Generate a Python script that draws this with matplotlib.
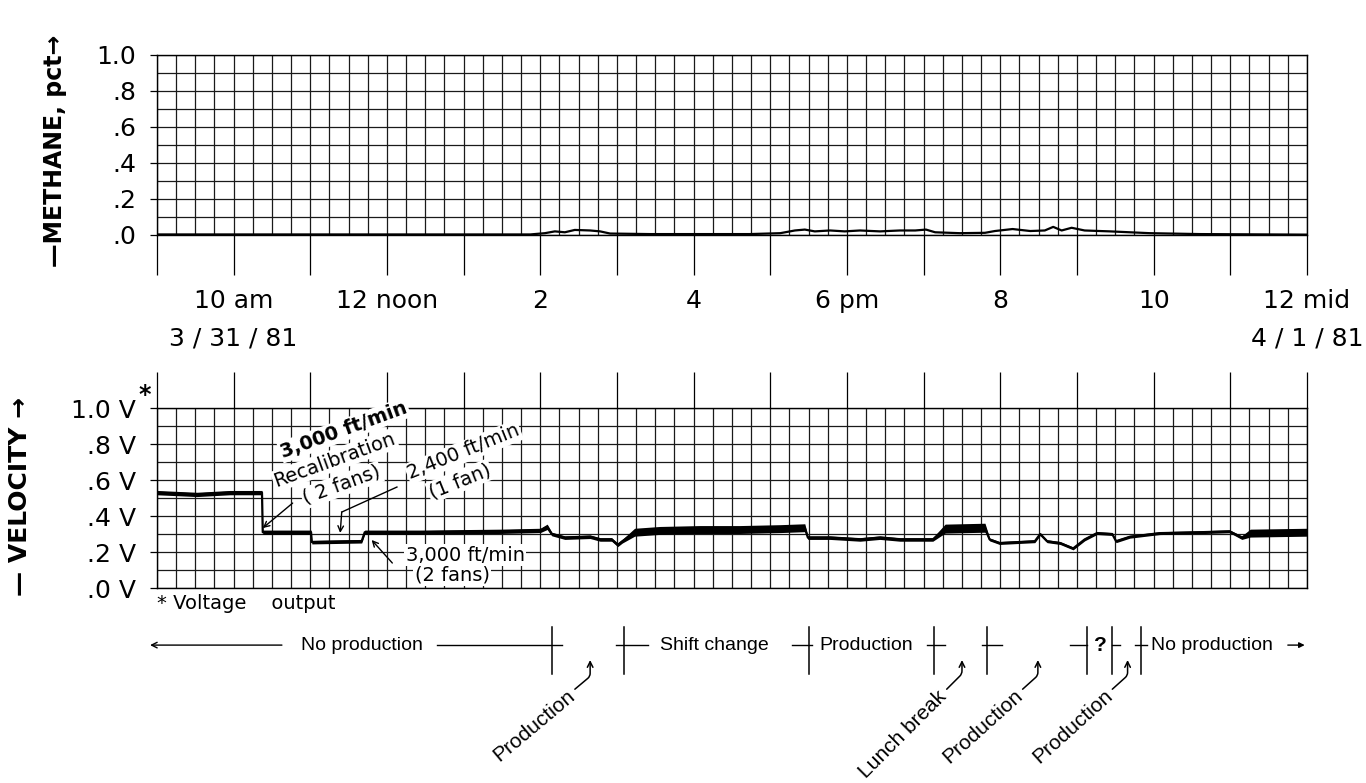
import numpy as np
import matplotlib.pyplot as plt
import matplotlib.transforms as mtransforms

plt.rcParams['font.family'] = ['DejaVu Sans']

# methane trace (hours after midnight 3/31/81, pct)
ch4_hours = [9.0, 12.17, 13.87, 14.06, 14.19, 14.32, 14.45, 14.65, 14.78, 14.91,
             15.43, 16.73, 17.13, 17.32, 17.45, 17.58, 17.78, 17.97, 18.17, 18.43,
             18.69, 18.89, 19.03, 19.15, 19.47, 19.80, 19.93, 20.16, 20.39, 20.58,
             20.69, 20.80, 20.93, 21.10, 21.43, 21.95, 22.6, 24.0]
ch4_pct = [0.003, 0.003, 0.003, 0.01, 0.02, 0.015, 0.028, 0.025, 0.02, 0.008,
           0.005, 0.005, 0.01, 0.025, 0.03, 0.02, 0.025, 0.02, 0.025, 0.02,
           0.025, 0.025, 0.03, 0.015, 0.01, 0.012, 0.022, 0.033, 0.022, 0.025,
           0.045, 0.025, 0.04, 0.025, 0.02, 0.01, 0.005, 0.002]

# velocity sensor voltage output
vel_hours = [9.0, 9.52, 9.95, 10.37, 10.38, 11.01, 11.02, 11.67, 11.71, 12.43,
             13.47, 14.0, 14.09, 14.15, 14.32, 14.65, 14.78, 14.93, 15.01, 15.07,
             15.23, 15.56, 16.08, 16.60, 17.13, 17.45, 17.49, 17.78, 18.17, 18.43,
             18.69, 19.12, 19.28, 19.80, 19.86, 19.99, 20.45, 20.52, 20.61, 20.78,
             20.95, 21.10, 21.26, 21.46, 21.51, 21.69, 22.08, 22.60, 22.99, 23.15,
             23.26, 24.0]
vel_volts = [0.53, 0.52, 0.53, 0.53, 0.31, 0.31, 0.255, 0.26, 0.31, 0.31,
             0.315, 0.32, 0.34, 0.30, 0.28, 0.285, 0.27, 0.27, 0.24, 0.26,
             0.31, 0.32, 0.325, 0.325, 0.33, 0.335, 0.28, 0.28, 0.27, 0.28,
             0.27, 0.27, 0.33, 0.335, 0.27, 0.25, 0.26, 0.30, 0.26, 0.25,
             0.22, 0.27, 0.305, 0.30, 0.26, 0.285, 0.305, 0.31, 0.315, 0.28,
             0.305, 0.31]
# half thickness of the noisy recorder trace
vel_band = [0.012, 0.012, 0.012, 0.012, 0.012, 0.012, 0.01, 0.01, 0.012, 0.012,
            0.012, 0.012, 0.015, 0.01, 0.01, 0.01, 0.01, 0.01, 0.01, 0.01,
            0.022, 0.022, 0.022, 0.022, 0.022, 0.022, 0.01, 0.01, 0.01, 0.01,
            0.01, 0.01, 0.025, 0.025, 0.008, 0.008, 0.008, 0.008, 0.008, 0.008,
            0.008, 0.008, 0.008, 0.008, 0.008, 0.008, 0.008, 0.008, 0.008, 0.01,
            0.022, 0.022]

hour_ticks = [10, 12, 14, 16, 18, 20, 22, 24]
hour_labels = ['10 am', '12 noon', '2', '4', '6 pm', '8', '10', '12 mid']
date_hours = [10, 24]
date_labels = ['3 / 31 / 81', '4 / 1 / 81']
ch4_ticklabels = ['.0', '.2', '.4', '.6', '.8', '1.0']
vel_ticklabels = ['.0 V', '.2 V', '.4 V', '.6 V', '.8 V', '1.0 V']

# production schedule row under the velocity chart
event_hours = [14.15, 15.09, 17.50, 19.13, 19.83, 21.13, 21.46, 21.83]
row_dashes = [(12.65, 14.28), (14.99, 15.40), (17.28, 17.55), (19.04, 19.28),
              (19.76, 20.02), (20.91, 21.13), (21.46, 21.56), (21.76, 21.91)]
row_texts = [('No production', 11.67, 'center'), ('Shift change', 15.56, 'left'),
             ('Production', 17.64, 'left'), ('No production', 21.97, 'left')]
slant_labels = ['Production', 'Lunch break', 'Production', 'Production']
slant_tips = [14.65, 19.50, 20.49, 21.66]
slant_angles = [40, 45, 42, 42]

fig = plt.figure(figsize=(13.66, 7.83), dpi=100)
ax1 = fig.add_axes([0.1149, 0.6999, 0.8419, 0.2299])
ax2 = fig.add_axes([0.1149, 0.2490, 0.8419, 0.2299])

for ax in (ax1, ax2):
    ax.set_xlim(9, 24)
    ax.set_ylim(0, 1)
    ax.set_xticks(np.arange(9, 24.01, 1))
    ax.set_xticks(np.arange(9, 24.01, 0.25), minor=True)
    ax.set_yticks(np.arange(0, 1.01, 0.2))
    ax.set_yticks(np.arange(0, 1.01, 0.1), minor=True)
    ax.set_axisbelow(True)
    ax.grid(which='both', color='#1a1a1a', lw=0.9)
    ax.tick_params(which='minor', length=0)
    ax.tick_params(axis='y', which='major', length=5, width=0.9, pad=10, labelsize=18)
    for s in ax.spines.values():
        s.set_linewidth(1.0)

# methane panel
ax1.plot(ch4_hours, ch4_pct, color='black', lw=1.6)
xlabs = [hour_labels[hour_ticks.index(h)] if h in hour_ticks else ''
         for h in range(9, 25)]
ax1.set_xticklabels(xlabs)
ax1.tick_params(axis='x', which='major', length=29, width=0.9, pad=10, labelsize=18)
ax1.set_yticklabels(ch4_ticklabels)
t1 = mtransforms.blended_transform_factory(ax1.transData, ax1.transAxes)
for h, lab in zip(date_hours, date_labels):
    ax1.text(h, -0.575, lab, transform=t1, ha='center', va='center', fontsize=18)
fig.text(0.040, 0.807, '—METHANE, pct→', rotation=90, ha='center', va='center',
         fontsize=17, fontweight='bold')

# velocity panel
ax2.fill_between(vel_hours, np.array(vel_volts) - np.array(vel_band),
                 np.array(vel_volts) + np.array(vel_band), color='black', lw=0)
ax2.plot(vel_hours, vel_volts, color='black', lw=1.6)
ax2.xaxis.tick_top()
ax2.tick_params(axis='x', which='major', length=26, width=0.9,
                labeltop=False, labelbottom=False)
ax2.set_yticklabels(vel_ticklabels)
ax2.text(-0.011, 1.07, '*', transform=ax2.transAxes, ha='center', va='center',
         fontsize=17, fontweight='bold')
ax2.text(0.0, -0.085, '* Voltage    output', transform=ax2.transAxes,
         ha='left', va='center', fontsize=14)
fig.text(0.0146, 0.3665, '— VELOCITY →', rotation=90, ha='center', va='center',
         fontsize=18, fontweight='bold')

box = dict(facecolor='white', edgecolor='none', pad=1)
ax2.text(11.44, 0.878, '3,000 ft/min', rotation=20, ha='center', va='center',
         fontsize=14, fontweight='bold', bbox=box)
ax2.text(11.32, 0.711, 'Recalibration', rotation=20, ha='center', va='center',
         fontsize=14, bbox=box)
ax2.text(11.41, 0.572, '( 2 fans)', rotation=20, ha='center', va='center',
         fontsize=14, bbox=box)
ax2.annotate('', xy=(10.38, 0.333), xytext=(10.77, 0.472),
             arrowprops=dict(arrowstyle='->', lw=1, color='black', shrinkA=0, shrinkB=0))
ax2.text(13.0, 0.756, '2,400 ft/min', rotation=22, ha='center', va='center',
         fontsize=14, bbox=box)
ax2.text(12.95, 0.594, '(1 fan)', rotation=22, ha='center', va='center',
         fontsize=14, bbox=box)
ax2.plot([12.13, 11.41], [0.561, 0.422], color='black', lw=1)
ax2.annotate('', xy=(11.39, 0.306), xytext=(11.41, 0.422),
             arrowprops=dict(arrowstyle='->', lw=1, color='black', shrinkA=0, shrinkB=0))
ax2.text(13.02, 0.183, '3,000 ft/min', ha='center', va='center', fontsize=14, bbox=box)
ax2.text(12.85, 0.072, '(2 fans)', ha='center', va='center', fontsize=14, bbox=box)
ax2.annotate('', xy=(11.80, 0.267), xytext=(12.07, 0.139),
             arrowprops=dict(arrowstyle='->', lw=1, color='black', shrinkA=0, shrinkB=0))

# schedule row
t2 = mtransforms.blended_transform_factory(ax2.transData, ax2.transAxes)
row_y = -0.317
rowfont = dict(family='Liberation Sans', fontsize=14)
for h in event_hours:
    ax2.plot([h, h], [-0.215, -0.48], transform=t2, color='black', lw=1.1, clip_on=False)
for a, b in row_dashes:
    ax2.plot([a, b], [row_y, row_y], transform=t2, color='black', lw=1, clip_on=False)
for lab, h, ha in row_texts:
    ax2.text(h, row_y, lab, transform=t2, ha=ha, va='center', **rowfont)
ax2.text(21.30, row_y, '?', transform=t2, ha='center', va='center',
         family='Liberation Sans', fontsize=15, fontweight='bold')
ax2.annotate('', xy=(8.91, row_y), xytext=(10.63, row_y), xycoords=t2, textcoords=t2,
             arrowprops=dict(arrowstyle='->', lw=1, color='black', shrinkA=0, shrinkB=0),
             annotation_clip=False)
ax2.annotate('', xy=(23.97, row_y), xytext=(23.75, row_y), xycoords=t2, textcoords=t2,
             arrowprops=dict(arrowstyle='-|>', lw=1, color='black', shrinkA=0, shrinkB=0,
                             mutation_scale=8),
             annotation_clip=False)
for lab, h, ang in zip(slant_labels, slant_tips, slant_angles):
    ax2.annotate('', xy=(h, -0.40), xycoords=t2, xytext=(-11, -21),
                 textcoords='offset points', annotation_clip=False,
                 arrowprops=dict(arrowstyle='->', lw=1.1, color='black',
                                 connectionstyle='angle,angleA=%d,angleB=90,rad=3' % ang,
                                 shrinkA=0, shrinkB=0))
    ax2.annotate(lab, xy=(h, -0.40), xycoords=t2, xytext=(-13, -24),
                 textcoords='offset points', rotation=ang, rotation_mode='anchor',
                 ha='right', va='center', annotation_clip=False,
                 family='Liberation Sans', fontsize=15)

fig.savefig('out.png', dpi=100)
